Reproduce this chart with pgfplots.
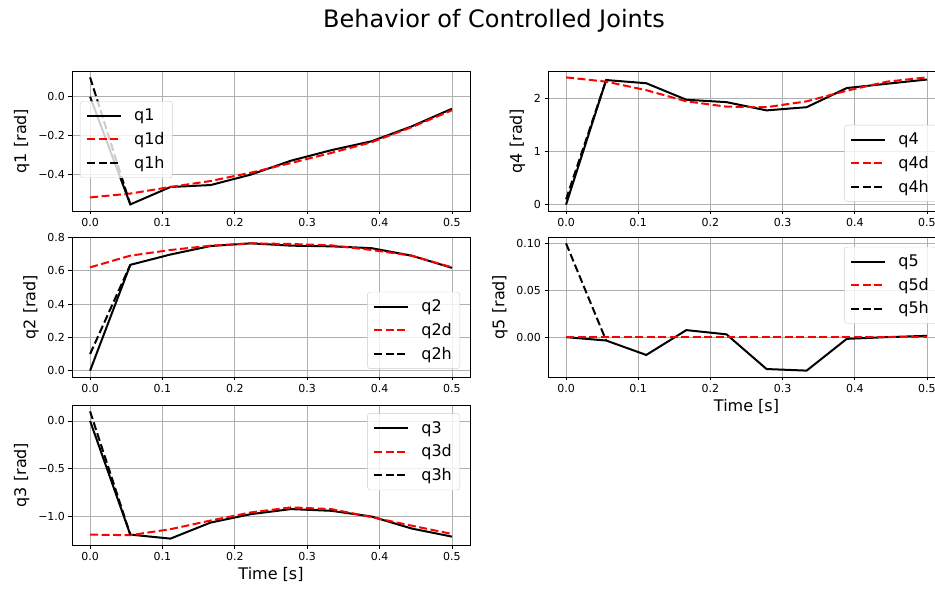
\documentclass[border=0pt]{standalone}
\usepackage{fontspec}
\setmainfont{DejaVu Sans}
\usepackage{pgfplots}
\usepackage{pgfplotstable}
\pgfplotsset{compat=1.18}

% joint trajectories: t, measured q, desired qd
\pgfplotstableread{
t        q        qd
0.00000  0.000   -0.520
0.05556 -0.556   -0.500
0.11111 -0.466   -0.466
0.16667 -0.456   -0.435
0.22222 -0.402   -0.392
0.27778 -0.330   -0.342
0.33333 -0.276   -0.290
0.38889 -0.230   -0.235
0.44444 -0.153   -0.157
0.50000 -0.062   -0.070
}\jointA
\pgfplotstableread{
t        q        qd
0.00000  0.000    0.620
0.05556  0.635    0.690
0.11111  0.697    0.724
0.16667  0.748    0.750
0.22222  0.764    0.764
0.27778  0.750    0.760
0.33333  0.746    0.752
0.38889  0.735    0.724
0.44444  0.690    0.690
0.50000  0.617    0.620
}\jointB
\pgfplotstableread{
t        q        qd
0.00000  0.000   -1.194
0.05556 -1.194   -1.200
0.11111 -1.236   -1.137
0.16667 -1.067   -1.046
0.22222 -0.979   -0.961
0.27778 -0.926   -0.908
0.33333 -0.944   -0.926
0.38889 -1.004   -1.010
0.44444 -1.130   -1.100
0.50000 -1.215   -1.187
}\jointC
\pgfplotstableread{
t        q        qd
0.00000  0.000    2.390
0.05556  2.340    2.310
0.11111  2.280    2.150
0.16667  1.970    1.940
0.22222  1.925    1.840
0.27778  1.770    1.830
0.33333  1.830    1.940
0.38889  2.190    2.140
0.44444  2.270    2.310
0.50000  2.350    2.390
}\jointD
\pgfplotstableread{
t        q        qd
0.00000  0.0000   0.0
0.05556 -0.0036   0.0
0.11111 -0.0190   0.0
0.16667  0.0075   0.0
0.22222  0.0030   0.0
0.27778 -0.0340   0.0
0.33333 -0.0357   0.0
0.38889 -0.0018   0.0
0.44444  0.0000   0.0
0.50000  0.0014   0.0
}\jointE

\pgfplotsset{
  joint/.style={
    scale only axis, anchor=south west,
    height=140pt,
    xmin=-0.025, xmax=0.525,
    xtick={0,0.1,0.2,0.3,0.4,0.5},
    xticklabels={0.0,0.1,0.2,0.3,0.4,0.5},
    grid=major,
    major grid style={color=black!31, line width=0.8pt},
    axis line style={line width=0.8pt},
    tick pos=left, tick align=outside,
    major tick length=3.5pt,
    tick style={black, line width=0.8pt},
    ticklabel style={font=\fontsize{11}{13}\selectfont},
    label style={font=\fontsize{16}{19}\selectfont},
    ylabel style={xshift=0pt, yshift=2pt},
    legend cell align=left,
    legend style={font=\fontsize{16}{19}\selectfont,
      draw=black!20, rounded corners=3pt, fill=white, fill opacity=0.8,
      draw opacity=1, text opacity=1, inner xsep=6pt, inner ysep=6pt,
      row sep=6pt,
      /tikz/every odd column/.append style={column sep=10pt}},
    legend image code/.code={\draw[##1] (0pt,0pt) -- (34pt,0pt);},
  },
  meas/.style={black, line width=2pt},
  des/.style={red, line width=2pt, dash pattern=on 8pt off 3.5pt},
  home/.style={black, line width=2pt, dash pattern=on 8pt off 3.5pt},
}

\begin{document}
\begin{tikzpicture}
\useasboundingbox (0,0) rectangle (935pt,592pt);

\node[font=\fontsize{24}{28}\selectfont] at (494pt,571pt) {Behavior of Controlled Joints};

% joint 1
\begin{axis}[joint, at={(72pt,381pt)}, width=398pt,
  ymin=-0.59, ymax=0.133,
  ytick={-0.4,-0.2,0}, yticklabels={−0.4,−0.2,0.0},
  ylabel={q1 [rad]},
  legend style={at={(0.02,0.785)}, anchor=north west}]
\addplot[meas] table[x=t, y=q] {\jointA};
\addplot[des] table[x=t, y=qd] {\jointA};
\addplot[home] coordinates {(0,0.1) (0.05556,-0.556)};
\legend{q1,q1d,q1h}
\end{axis}

% joint 2
\begin{axis}[joint, at={(72pt,215pt)}, width=398pt,
  ymin=-0.038, ymax=0.802,
  ytick={0,0.2,0.4,0.6,0.8}, yticklabels={0.0,0.2,0.4,0.6,0.8},
  ylabel={q2 [rad]},
  legend style={at={(0.975,0.058)}, anchor=south east}]
\addplot[meas] table[x=t, y=q] {\jointB};
\addplot[des] table[x=t, y=qd] {\jointB};
\addplot[home] coordinates {(0,0.1) (0.05556,0.635)};
\legend{q2,q2d,q2h}
\end{axis}

% joint 3
\begin{axis}[joint, at={(72pt,47pt)}, width=398pt,
  ymin=-1.303, ymax=0.167,
  ytick={-1,-0.5,0}, yticklabels={−1.0,−0.5,0.0},
  ylabel={q3 [rad]}, xlabel={Time [s]},
  legend style={at={(0.975,0.942)}, anchor=north east}]
\addplot[meas] table[x=t, y=q] {\jointC};
\addplot[des] table[x=t, y=qd] {\jointC};
\addplot[home] coordinates {(0,0.1) (0.05556,-1.194)};
\legend{q3,q3d,q3h}
\end{axis}

% joint 4
\begin{axis}[joint, at={(548pt,381pt)}, width=397pt,
  ymin=-0.12, ymax=2.51,
  ytick={0,1,2}, yticklabels={0,1,2},
  ylabel={q4 [rad]},
  legend style={at={(0.98,0.066)}, anchor=south east}]
\addplot[meas] table[x=t, y=q] {\jointD};
\addplot[des] table[x=t, y=qd] {\jointD};
\addplot[home] coordinates {(0,0.1) (0.05556,2.34)};
\legend{q4,q4d,q4h}
\end{axis}

% joint 5
\begin{axis}[joint, at={(548pt,215pt)}, width=397pt,
  ymin=-0.0425, ymax=0.1068,
  ytick={0,0.05,0.1}, yticklabels={0.00,0.05,0.10},
  ylabel={q5 [rad]}, xlabel={Time [s]},
  legend style={at={(0.98,0.93)}, anchor=north east}]
\addplot[meas] table[x=t, y=q] {\jointE};
\addplot[des] table[x=t, y=qd] {\jointE};
\addplot[home] coordinates {(0,0.1) (0.05556,-0.0036)};
\legend{q5,q5d,q5h}
\end{axis}
\end{tikzpicture}
\end{document}
